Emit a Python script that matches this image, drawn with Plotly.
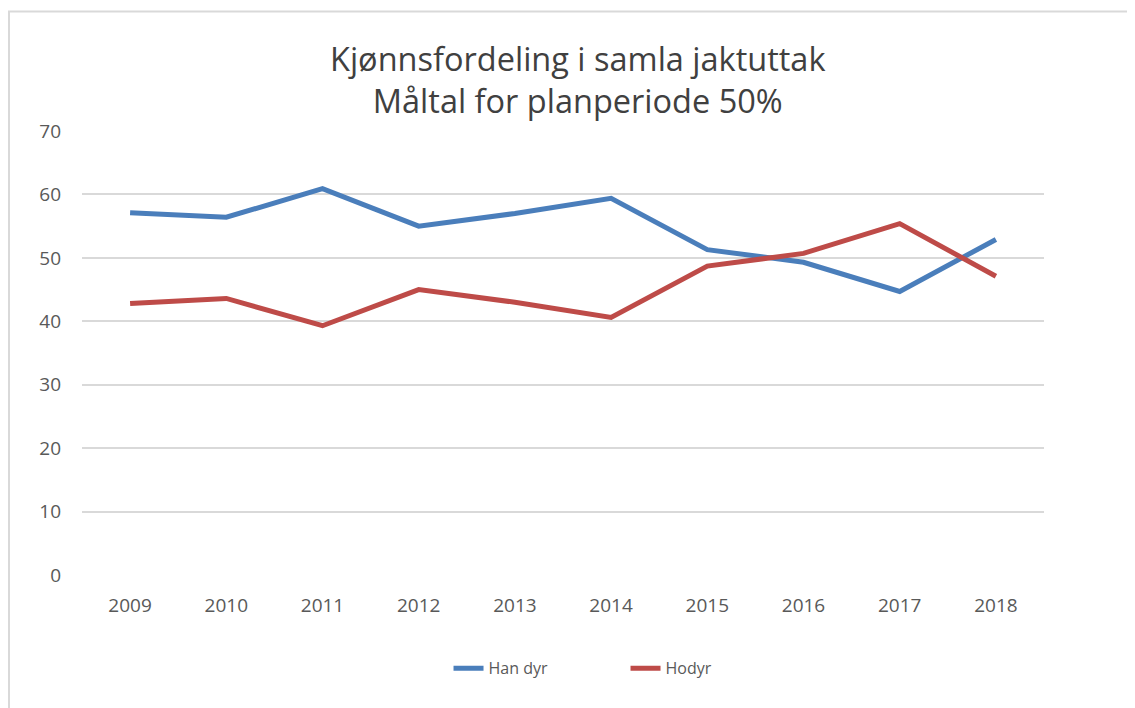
import plotly.graph_objects as go

years = ["2009", "2010", "2011", "2012", "2013", "2014", "2015", "2016", "2017", "2018"]
han_dyr = [57.1, 56.4, 60.9, 55.0, 57.0, 59.4, 51.3, 49.3, 44.7, 52.9]
hodyr = [42.8, 43.6, 39.3, 45.0, 43.0, 40.6, 48.7, 50.7, 55.4, 47.1]
y_ticks = [0, 10, 20, 30, 40, 50, 60, 70]

FONT = "Open Sans"

fig = go.Figure()
fig.add_trace(go.Scatter(x=years, y=han_dyr, name="Han dyr", mode="lines",
                         line=dict(color="#4a7ebb", width=5)))
fig.add_trace(go.Scatter(x=years, y=hodyr, name="Hodyr", mode="lines",
                         line=dict(color="#be4b48", width=5)))

fig.update_layout(
    width=1135, height=708,
    margin=dict(l=74, r=99, t=123, b=141),
    paper_bgcolor="white", plot_bgcolor="white",
    title=dict(text="Kjønnsfordeling i samla jaktuttak<br>Måltal for planperiode 50%",
               x=0.502, xref="container", xanchor="center",
               y=0.911, yref="container", yanchor="bottom",
               font=dict(family=FONT, size=32.5, color="#404040")),
    xaxis=dict(type="category", range=[-0.5, 9.5], showgrid=False,
               showline=False, zeroline=False, ticks="",
               tickfont=dict(family=FONT, size=19, color="#595959"), ticklabelstandoff=17),
    yaxis=dict(range=[0, 70], tickvals=y_ticks, showgrid=True, gridcolor="#d9d9d9",
               gridwidth=1.5, zeroline=False, showline=False, ticks="",
               tickfont=dict(family=FONT, size=19, color="#595959"), ticklabelstandoff=20),
    legend=dict(orientation="h", x=0.381, xanchor="left", y=-0.21, yanchor="middle",
                font=dict(family=FONT, size=16, color="#595959"), itemwidth=30,
                entrywidth=132, entrywidthmode="pixels"),
    shapes=[dict(type="rect", xref="paper", yref="paper",
                 x0=-0.0759, x1=1.3, y0=-0.4, y1=1.269,
                 line=dict(color="#d9d9d9", width=2), layer="below")],
)

fig.write_html("out.html")
